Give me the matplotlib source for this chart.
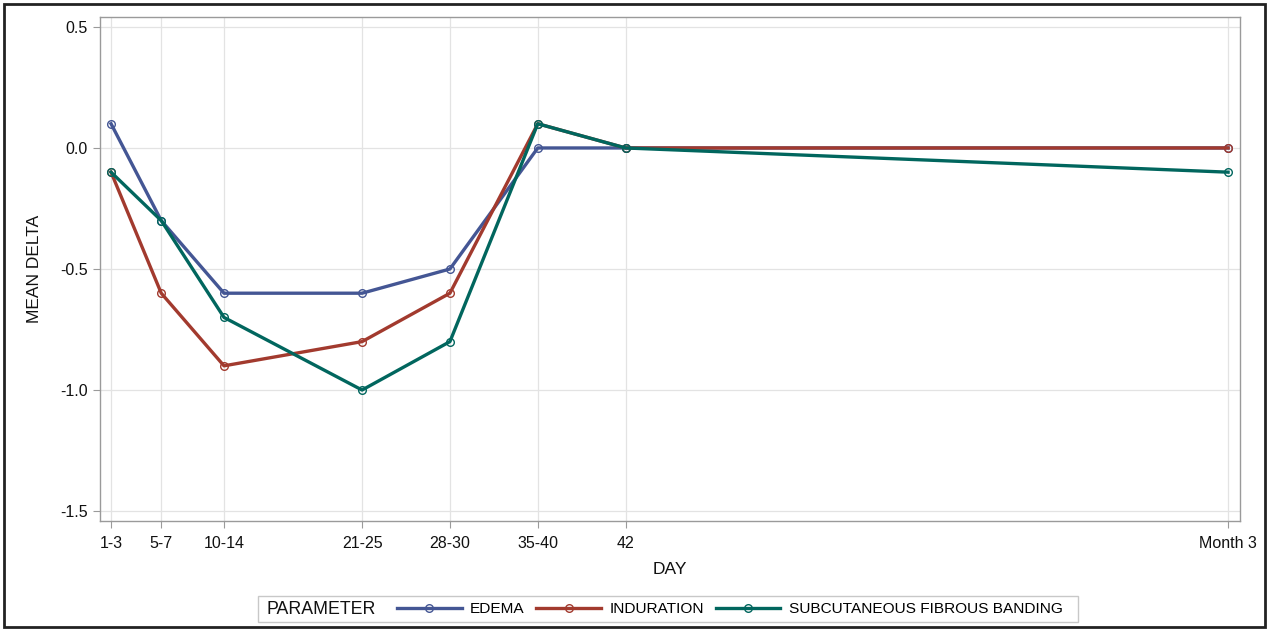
import matplotlib
matplotlib.use('Agg')
import matplotlib.pyplot as plt
from matplotlib.lines import Line2D
from matplotlib.patches import Rectangle

# data
day_pos = [1, 5, 10, 21, 28, 35, 42, 90]
day_labels = ['1-3', '5-7', '10-14', '21-25', '28-30', '35-40', '42', 'Month 3']
edema = [0.1, -0.3, -0.6, -0.6, -0.5, 0.0, 0.0, 0.0]
induration = [-0.1, -0.6, -0.9, -0.8, -0.6, 0.1, 0.0, 0.0]
banding = [-0.1, -0.3, -0.7, -1.0, -0.8, 0.1, 0.0, -0.1]
series_names = ['EDEMA', 'INDURATION', 'SUBCUTANEOUS FIBROUS BANDING']
colors = ['#445694', '#a23a2e', '#01665e']

plt.rcParams['font.family'] = ['Liberation Sans', 'DejaVu Sans']
plt.rcParams['font.size'] = 11.5

fig = plt.figure(figsize=(12.68, 6.29), dpi=100)
ax = fig.add_axes([100 / 1268, 108 / 629, 1140 / 1268, 504 / 629])

for vals, c, name in zip([edema, induration, banding], colors, series_names):
    ax.plot(day_pos, vals, color=c, lw=2.4, marker='o', ms=5.5,
            mfc='none', mec=c, mew=1.0, label=name, zorder=3)

ax.set_xlim(0.12, 90.95)
ax.set_ylim(-1.541, 0.541)
ax.set_xticks(day_pos)
ax.set_xticklabels(day_labels)
ax.set_yticks([0.5, 0.0, -0.5, -1.0, -1.5])
ax.set_yticklabels(['0.5', '0.0', '-0.5', '-1.0', '-1.5'])
ax.grid(True, color='#e3e3e3', lw=0.9, zorder=0)
ax.set_axisbelow(True)
for s in ax.spines.values():
    s.set_color('#9a9a9a')
    s.set_linewidth(1.0)
ax.tick_params(axis='both', direction='out', length=5, color='#9a9a9a',
               labelcolor='#111111', pad=4, labelsize=11.5)
ax.tick_params(axis='x', pad=6)

ax.set_xlabel('DAY', labelpad=8, color='#111111', fontsize=12.5)
ax.set_ylabel('MEAN DELTA', labelpad=13, color='#111111', fontsize=12.5)

# legend row with the group title on the left
fig.add_artist(Rectangle((258 / 1268, 7 / 629), 820 / 1268, 26 / 629,
                         transform=fig.transFigure, fill=False,
                         edgecolor='#c8c8c8', lw=1.0))
fig.text(267 / 1268, 20 / 629, 'PARAMETER', ha='left', va='center',
         color='#111111', fontsize=12.8)
leg_handles = [Line2D([], [], color=c, lw=2.4, marker='o', ms=5.5, mfc='none',
                      mec=c, mew=1.0) for c in colors]
fig.legend(leg_handles, series_names, loc='center left',
           bbox_to_anchor=(397 / 1268, 20 / 629), ncol=3, frameon=False,
           borderpad=0, borderaxespad=0, handlelength=4.2, handletextpad=0.55,
           columnspacing=0.75, fontsize=11.1)

# outer frame
fig.add_artist(Rectangle((4 / 1268, 2 / 629), 1261 / 1268, 623 / 629,
                         transform=fig.transFigure, fill=False,
                         edgecolor='#222222', lw=2.0))

fig.savefig('out.png', dpi=100)
